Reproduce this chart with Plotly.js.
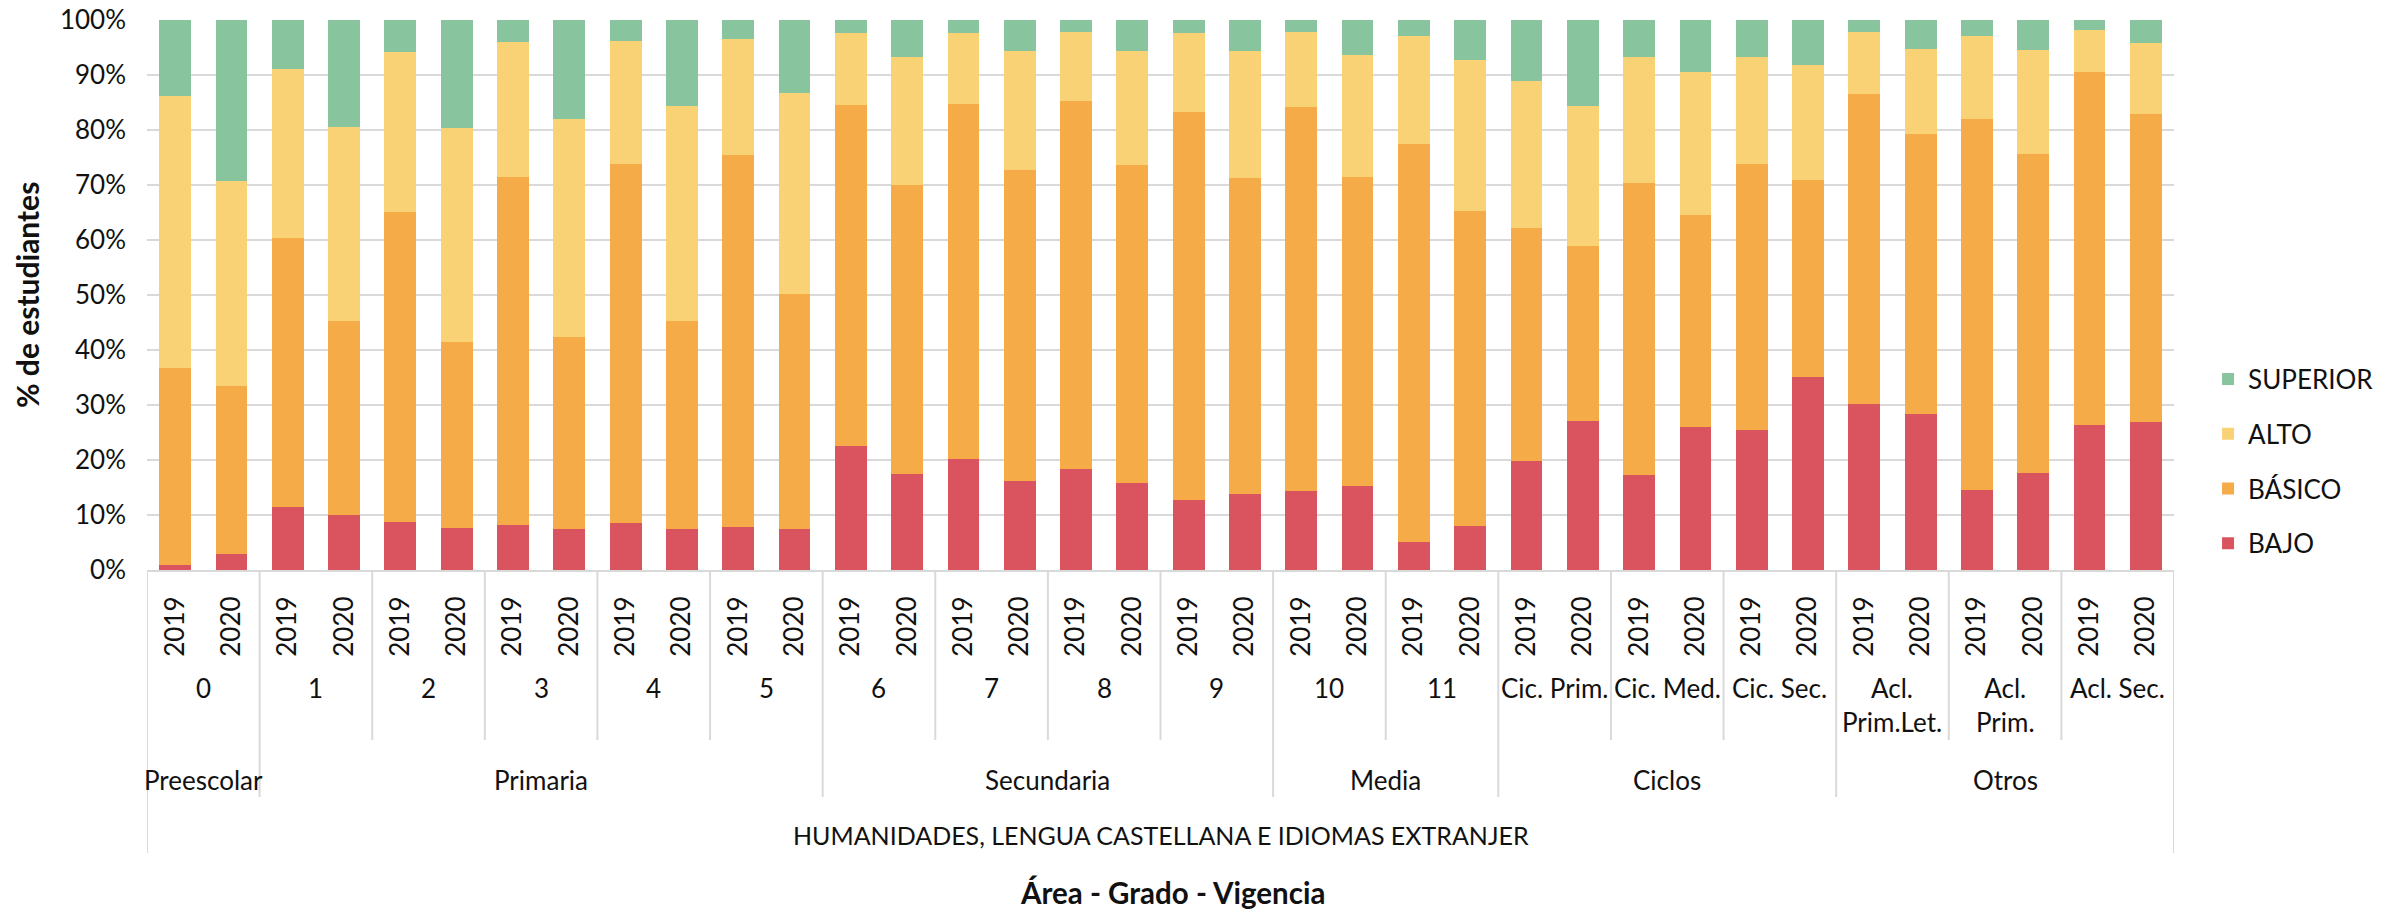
<!DOCTYPE html>
<html><head><meta charset="utf-8">
<script src="https://cdn.plot.ly/plotly-3.0.1.min.js"></script>
<style>html,body{margin:0;padding:0;background:#fff}#chart{width:2395px;height:910px}</style>
</head><body><div id="chart"></div>
<script>
const areaName = 'HUMANIDADES, LENGUA CASTELLANA E IDIOMAS EXTRANJER';
const groupNames = ['Preescolar','Primaria','Secundaria','Media','Ciclos','Otros'];
const gradesPerGroup = [1,5,4,2,3,3];
const grades = ['0','1','2','3','4','5','6','7','8','9','10','11','Cic. Prim.','Cic. Med.','Cic. Sec.','Acl.<br>Prim.Let.','Acl.<br>Prim.','Acl. Sec.'];
const years = ['2019','2020'];
const seriesNames = ['BAJO','BÁSICO','ALTO','SUPERIOR'];
const bajo =     [1.0,3.0,11.5,10.0,8.7,7.7,8.1,7.4,8.6,7.4,7.9,7.5,22.5,17.5,20.1,16.1,18.3,15.9,12.8,13.8,14.3,15.2,5.1,8.0,19.9,27.1,17.3,26.0,25.4,35.1,30.1,28.4,14.5,17.7,26.4,26.9];
const basico =   [35.8,30.5,48.8,35.2,56.4,33.8,63.4,35.0,65.3,37.8,67.6,42.6,62.0,52.5,64.6,56.6,66.9,57.7,70.4,57.5,69.8,56.3,72.3,57.3,42.3,31.8,53.1,38.5,48.5,35.9,56.5,50.8,67.5,58.0,64.1,56.1];
const alto =     [49.3,37.2,30.8,35.4,29.0,38.9,24.5,39.6,22.2,39.2,21.0,36.6,13.1,23.3,12.9,21.7,12.7,20.8,14.4,23.0,13.8,22.2,19.7,27.5,26.7,25.4,22.8,26.0,19.4,20.9,11.3,15.5,15.1,18.9,7.6,12.9];
const superior = [13.9,29.3,8.9,19.4,5.9,19.6,4.0,18.0,3.9,15.6,3.5,13.3,2.4,6.7,2.4,5.6,2.1,5.6,2.4,5.7,2.1,6.3,2.9,7.2,11.1,15.7,6.8,9.5,6.7,8.1,2.1,5.3,2.9,5.4,1.9,4.1];
const colors = ['#D9545F','#F5AB48','#F8D275','#88C49D'];

const FONT = 'Lato, "Open Sans", sans-serif';
const TXT = '#111111';
const LINE = '#d9d9d9';
const FS = 26;

// positions derived from category arrays
const xIdx = [], tickText = [];
grades.forEach((g, gi) => years.forEach((y, yi) => { xIdx.push(gi * years.length + yi); tickText.push(y); }));
const n = xIdx.length;

const values = [bajo, basico, alto, superior];
const traces = values.map((v, i) => ({
  type: 'bar', x: xIdx, y: v, name: seriesNames[i], legendgroup: 'g' + i,
  legendrank: values.length - i,
  marker: {color: colors[i], line: {width: 0}}
}));

// label levels in paper coords
const yGrade = -0.182, yGroup = -0.382, yArea = -0.482, yTitle = -0.587;
const lvGrade = -0.309, lvGroup = -0.4127, lvArea = -0.5145;

const annotations = [];
const shapes = [];
grades.forEach((g, gi) => {
  annotations.push({x: gi * 2 + 0.5, y: yGrade, xref: 'x', yref: 'paper', text: g, showarrow: false,
    yanchor: 'top', xanchor: 'center', font: {family: FONT, size: FS, color: TXT}});
});
// group labels and dividers
let start = 0;
const groupBounds = new Set([0]);
groupNames.forEach((name, k) => {
  const cnt = gradesPerGroup[k] * years.length;
  annotations.push({x: start + (cnt - 1) / 2, y: yGroup, xref: 'x', yref: 'paper', text: name, showarrow: false,
    yanchor: 'middle', xanchor: 'center', font: {family: FONT, size: FS, color: TXT}});
  start += cnt;
  groupBounds.add(start);
});
annotations.push({x: (n - 1) / 2, y: yArea, xref: 'x', yref: 'paper', text: areaName, showarrow: false,
  yanchor: 'middle', xanchor: 'center', font: {family: FONT, size: 25, color: TXT}});
annotations.push({x: 0.506, y: yTitle, xref: 'paper', yref: 'paper', text: '<b>Área - Grado - Vigencia</b>', showarrow: false,
  yanchor: 'middle', xanchor: 'center', font: {family: FONT, size: 29.5, color: TXT}});
annotations.push({x: -0.0592, y: 0.5, xref: 'paper', yref: 'paper', text: '<b>% de estudiantes</b>', showarrow: false,
  textangle: -90, yanchor: 'middle', xanchor: 'center', font: {family: FONT, size: 30, color: TXT}});

for (let gi = 0; gi <= grades.length; gi++) {
  const b = gi * years.length;
  let depth = lvGrade;
  if (b === 0 || b === n) depth = lvArea;
  else if (groupBounds.has(b)) depth = lvGroup;
  shapes.push({type: 'line', xref: 'x', yref: 'paper', x0: b - 0.5, x1: b - 0.5, y0: 0, y1: depth,
    line: {color: LINE, width: 2}});
}

const layout = {
  width: 2395, height: 910,
  margin: {l: 147, r: 221, t: 20, b: 340},
  paper_bgcolor: '#fff', plot_bgcolor: '#fff',
  barmode: 'stack', bargap: 0.435,
  showlegend: true,
  legend: {x: 1.0168, xanchor: 'left', y: 0.39, yanchor: 'top', traceorder: 'grouped', tracegroupgap: 18,
    font: {family: FONT, size: FS, color: TXT}, bgcolor: 'rgba(0,0,0,0)'},
  xaxis: {range: [-0.5, n - 0.5], tickmode: 'array', tickvals: xIdx, ticktext: tickText, tickangle: -90,
    ticks: '', showgrid: false, zeroline: false, showline: true, linecolor: LINE, linewidth: 2,
    tickfont: {family: FONT, size: FS, color: TXT}, ticklabelstandoff: 14, fixedrange: true},
  yaxis: {range: [0, 100], dtick: 10, ticksuffix: '%', showgrid: true, gridcolor: LINE, gridwidth: 2,
    zeroline: false, showline: false, ticks: '', tickfont: {family: FONT, size: FS, color: TXT},
    ticklabelstandoff: 20, fixedrange: true},
  annotations: annotations, shapes: shapes
};
Plotly.newPlot('chart', traces, layout, {displayModeBar: false, staticPlot: true});
</script></body></html>
